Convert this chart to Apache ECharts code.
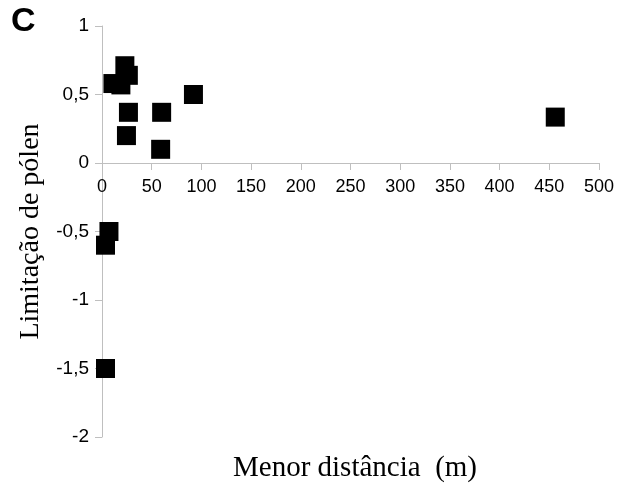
<!DOCTYPE html>
<html>
<head>
<meta charset="utf-8">
<script src="https://cdn.jsdelivr.net/npm/echarts@6/dist/echarts.min.js"></script>
<style>
  html, body { margin: 0; padding: 0; background: #fff; }
  #grafico { width: 622px; height: 494px; }
</style>
</head>
<body>
<div id="grafico"></div>
<script>
// distância (m) e limitação de pólen
const distancias = [11, 19, 23, 26.5, 26.6, 24.6, 60, 59, 92, 456, 7, 3.5, 3.5];
const limitacao = [0.58, 0.57, 0.71, 0.64, 0.37, 0.20, 0.37, 0.10, 0.50, 0.335, -0.50, -0.60, -1.5];
const ticksX = [0, 50, 100, 150, 200, 250, 300, 350, 400, 450, 500];

const pontos = distancias.map((d, i) => [d, limitacao[i]]);

let chart = echarts.init(document.getElementById('grafico'));

const corEixo = '#bfbfbf';

const option = {
    animation: false,
    title: [
        {
            text: 'C',
            left: 6,
            top: 0,
            textStyle: { fontFamily: 'Liberation Sans', fontWeight: 900, fontSize: 34, color: '#000' }
        },
        {
            text: 'Menor distância  (m)',
            left: 350,
            top: 449,
            textAlign: 'center',
            textStyle: { fontFamily: 'Liberation Serif', fontWeight: 'normal', fontSize: 29, color: '#000' }
        }
    ],
    grid: {
        left: 102,
        right: 23,
        top: 26,
        bottom: 57
    },
    xAxis: {
        type: 'value',
        min: 0,
        max: 500,
        interval: 50,
        // eixo desenhado na altura do zero
        offset: -274,
        axisLine: { show: true, onZero: false, lineStyle: { color: corEixo } },
        axisTick: { show: true, length: 7, lineStyle: { color: corEixo } },
        axisLabel: {
            margin: 15,
            fontFamily: 'Liberation Sans',
            fontSize: 18,
            color: '#000',
            formatter: v => ticksX.includes(v) ? String(v) : ''
        },
        splitLine: { show: false }
    },
    yAxis: {
        type: 'value',
        min: -2,
        max: 1,
        interval: 0.5,
        name: 'Limitação de pólen',
        nameLocation: 'middle',
        nameGap: 57,
        nameTextStyle: { fontFamily: 'Liberation Serif', fontSize: 28, color: '#000' },
        axisLine: { show: true, lineStyle: { color: corEixo } },
        axisTick: { show: true, length: 7, lineStyle: { color: corEixo } },
        axisLabel: {
            margin: 13,
            fontFamily: 'Liberation Sans',
            fontSize: 19,
            color: '#000',
            formatter: v => String(v).replace('.', ',')
        },
        splitLine: { show: false }
    },
    series: [
        {
            type: 'scatter',
            data: pontos,
            symbol: 'rect',
            symbolSize: 19,
            itemStyle: { color: '#000', opacity: 1 }
        }
    ]
};

option && chart.setOption(option);
window.addEventListener('resize', chart.resize);
</script>
</body>
</html>
